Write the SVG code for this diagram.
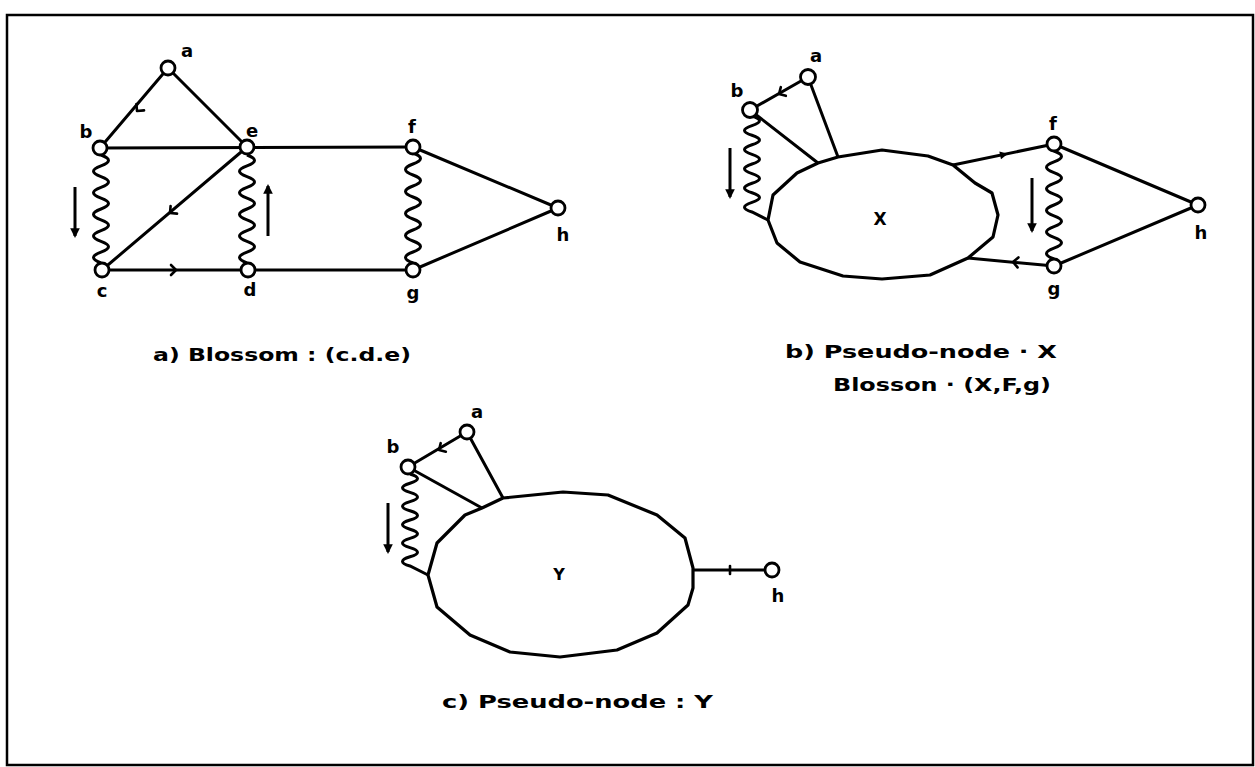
<svg xmlns="http://www.w3.org/2000/svg" width="1255" height="767" viewBox="0 0 1255 767">
  <style>
    .edge { stroke: #000; stroke-width: 3; fill: none; stroke-linecap: round; stroke-linejoin: round; }
    .wavy { stroke: #000; stroke-width: 3; fill: none; }
    .node { stroke: #000; stroke-width: 2.8; fill: #fff; }
    .blob { stroke: #000; stroke-width: 3.2; fill: #fff; stroke-linejoin: round; }
    .lbl { font-family: "DejaVu Sans", "Liberation Sans", sans-serif; font-weight: bold; font-size: 18px; fill: #000; text-anchor: middle; }
    .cap { font-family: "DejaVu Sans", "Liberation Sans", sans-serif; font-weight: bold; font-size: 17px; fill: #000; }
    .tick { stroke: #000; stroke-width: 2.6; fill: none; stroke-linecap: round; stroke-linejoin: round; }
    .dir { stroke: #000; stroke-width: 3; fill: none; marker-end: url(#head); }
  </style>
  <defs>
    <marker id="head" viewBox="0 0 10 10" refX="8" refY="5" markerWidth="3.2" markerHeight="3.2" orient="auto">
      <path d="M0,0 L10,5 L0,10 z" fill="#000"/>
    </marker>
    <!-- small chevron placed in the middle of a directed edge, pointing along +x -->
    <path id="chev" d="M-5,-5 L0,0 L-5,5" class="tick"/>
    <path id="tri" d="M-7,-4 L1,0 L-7,4 z" fill="#000"/>
  </defs>

  <!-- outer frame -->
  <rect x="7" y="15" width="1246" height="750" fill="none" stroke="#000" stroke-width="2.5"/>

  <!-- ============ panel a ============ -->
  <g id="connectors-a">
    <path class="edge" d="M168,68 L100,148"/>
    <path class="edge" d="M168,68 L247,147"/>
    <path class="edge" d="M100,148 L413,147"/>
    <path class="edge" d="M247,147 L102,270"/>
    <path class="edge" d="M102,270 L413,270"/>
    <path class="edge" d="M413,147 L558,208 L413,270"/>
    <path class="wavy" d="M101,155 q15,5.4 0,10.8 t0,10.8 t0,10.8 t0,10.8 t0,10.8 t0,10.8 t0,10.8 t0,10.8 t0,10.8 t0,10.8"/>
    <path class="wavy" d="M247,155 q15,5.4 0,10.8 t0,10.8 t0,10.8 t0,10.8 t0,10.8 t0,10.8 t0,10.8 t0,10.8 t0,10.8 t0,10.8"/>
    <path class="wavy" d="M413,153 q15,5.5 0,11 t0,11 t0,11 t0,11 t0,11 t0,11 t0,11 t0,11 t0,11 t0,11"/>
    <use href="#chev" transform="translate(137,111) rotate(130)"/>
    <use href="#chev" transform="translate(170,213) rotate(140)"/>
    <use href="#chev" transform="translate(176,270)"/>
    <path class="dir" d="M75,187 L75,236"/>
    <path class="dir" d="M268,236 L268,186"/>
  </g>
  <g id="node-a-a"><circle class="node" cx="168" cy="68" r="7"/><text class="lbl" x="187" y="57">a</text></g>
  <g id="node-a-b"><circle class="node" cx="100" cy="148" r="7"/><text class="lbl" x="86" y="138">b</text></g>
  <g id="node-a-e"><circle class="node" cx="247" cy="147" r="7"/><text class="lbl" x="252" y="137">e</text></g>
  <g id="node-a-c"><circle class="node" cx="102" cy="270" r="7"/><text class="lbl" x="102" y="297">c</text></g>
  <g id="node-a-d"><circle class="node" cx="248" cy="270" r="7"/><text class="lbl" x="250" y="296">d</text></g>
  <g id="node-a-f"><circle class="node" cx="413" cy="147" r="7"/><text class="lbl" x="412" y="133">f</text></g>
  <g id="node-a-g"><circle class="node" cx="413" cy="270" r="7"/><text class="lbl" x="413" y="299">g</text></g>
  <g id="node-a-h"><circle class="node" cx="558" cy="208" r="7"/><text class="lbl" x="563" y="241">h</text></g>
  <text class="cap" x="153" y="361" textLength="258" lengthAdjust="spacingAndGlyphs">a) Blossom : (c.d.e)</text>

  <!-- ============ panel b ============ -->
  <g id="connectors-b">
    <path class="edge" d="M808,77 L750,110"/>
    <path class="edge" d="M750,110 L818,163"/>
    <path class="edge" d="M808,77 L838,157"/>
    <path class="edge" d="M953,165 L1054,144"/>
    <path class="edge" d="M1054,266 L968,258"/>
    <path class="edge" d="M1054,144 L1198,205 L1054,266"/>
    <path class="wavy" d="M752,116 q15,4.8 0,9.6 t0,9.6 t0,9.6 t0,9.6 t0,9.6 t0,9.6 t0,9.6 t0,9.6 t0,9.6 t0,9.6 L768,220"/>
    <path class="wavy" d="M1054,151 q15,5.4 0,10.8 t0,10.8 t0,10.8 t0,10.8 t0,10.8 t0,10.8 t0,10.8 t0,10.8 t0,10.8 t0,10.8"/>
    <use href="#chev" transform="translate(779,94) rotate(150)"/>
    <use href="#tri" transform="translate(1007,154) rotate(-12)"/>
    <use href="#chev" transform="translate(1013,262) rotate(185)"/>
    <path class="dir" d="M730,148 L730,197"/>
    <path class="dir" d="M1032,178 L1032,231"/>
  </g>
  <g id="node-b-X">
    <polygon class="blob" points="768,220 773,195 797,173 818,163 838,157 882,150 928,156 953,165 975,183 992,193 998,215 993,237 968,258 930,275 882,279 843,276 800,262 777,243"/>
    <text class="lbl" x="880" y="225" style="font-size:17px">X</text>
  </g>
  <g id="node-b-a"><circle class="node" cx="808" cy="77" r="7.5"/><text class="lbl" x="816" y="62">a</text></g>
  <g id="node-b-b"><circle class="node" cx="750" cy="110" r="7.5"/><text class="lbl" x="737" y="97">b</text></g>
  <g id="node-b-f"><circle class="node" cx="1054" cy="144" r="7"/><text class="lbl" x="1053" y="130">f</text></g>
  <g id="node-b-g"><circle class="node" cx="1054" cy="266" r="7"/><text class="lbl" x="1054" y="295">g</text></g>
  <g id="node-b-h"><circle class="node" cx="1198" cy="205" r="7"/><text class="lbl" x="1201" y="239">h</text></g>
  <text class="cap" x="785" y="358" textLength="272" lengthAdjust="spacingAndGlyphs">b) Pseudo-node · X</text>
  <text class="cap" x="833" y="391" textLength="218" lengthAdjust="spacingAndGlyphs">Blosson · (X,F,g)</text>

  <!-- ============ panel c ============ -->
  <g id="connectors-c">
    <path class="edge" d="M467,432 L408,467"/>
    <path class="edge" d="M408,467 L482,508"/>
    <path class="edge" d="M467,432 L503,498"/>
    <path class="edge" d="M693,570 L772,570"/>
    <path class="wavy" d="M410,474 q15,4.6 0,9.2 t0,9.2 t0,9.2 t0,9.2 t0,9.2 t0,9.2 t0,9.2 t0,9.2 t0,9.2 t0,9.2 L428,575"/>
    <use href="#chev" transform="translate(439,450) rotate(149)"/>
    <path class="tick" d="M730,566 L730,574"/>
    <path class="dir" d="M388,503 L388,552"/>
  </g>
  <g id="node-c-Y">
    <polygon class="blob" points="428,575 437,543 465,515 482,508 503,498 563,492 608,495 657,515 685,538 693,568 693,588 688,605 657,633 617,650 560,657 510,652 470,635 437,607"/>
    <text class="lbl" x="559" y="580" style="font-size:16px">Y</text>
  </g>
  <g id="node-c-a"><circle class="node" cx="467" cy="432" r="7"/><text class="lbl" x="477" y="418">a</text></g>
  <g id="node-c-b"><circle class="node" cx="408" cy="467" r="7"/><text class="lbl" x="393" y="453">b</text></g>
  <g id="node-c-h"><circle class="node" cx="772" cy="570" r="7"/><text class="lbl" x="778" y="602">h</text></g>
  <text class="cap" x="442" y="708" textLength="271" lengthAdjust="spacingAndGlyphs">c) Pseudo-node : Y</text>
</svg>
